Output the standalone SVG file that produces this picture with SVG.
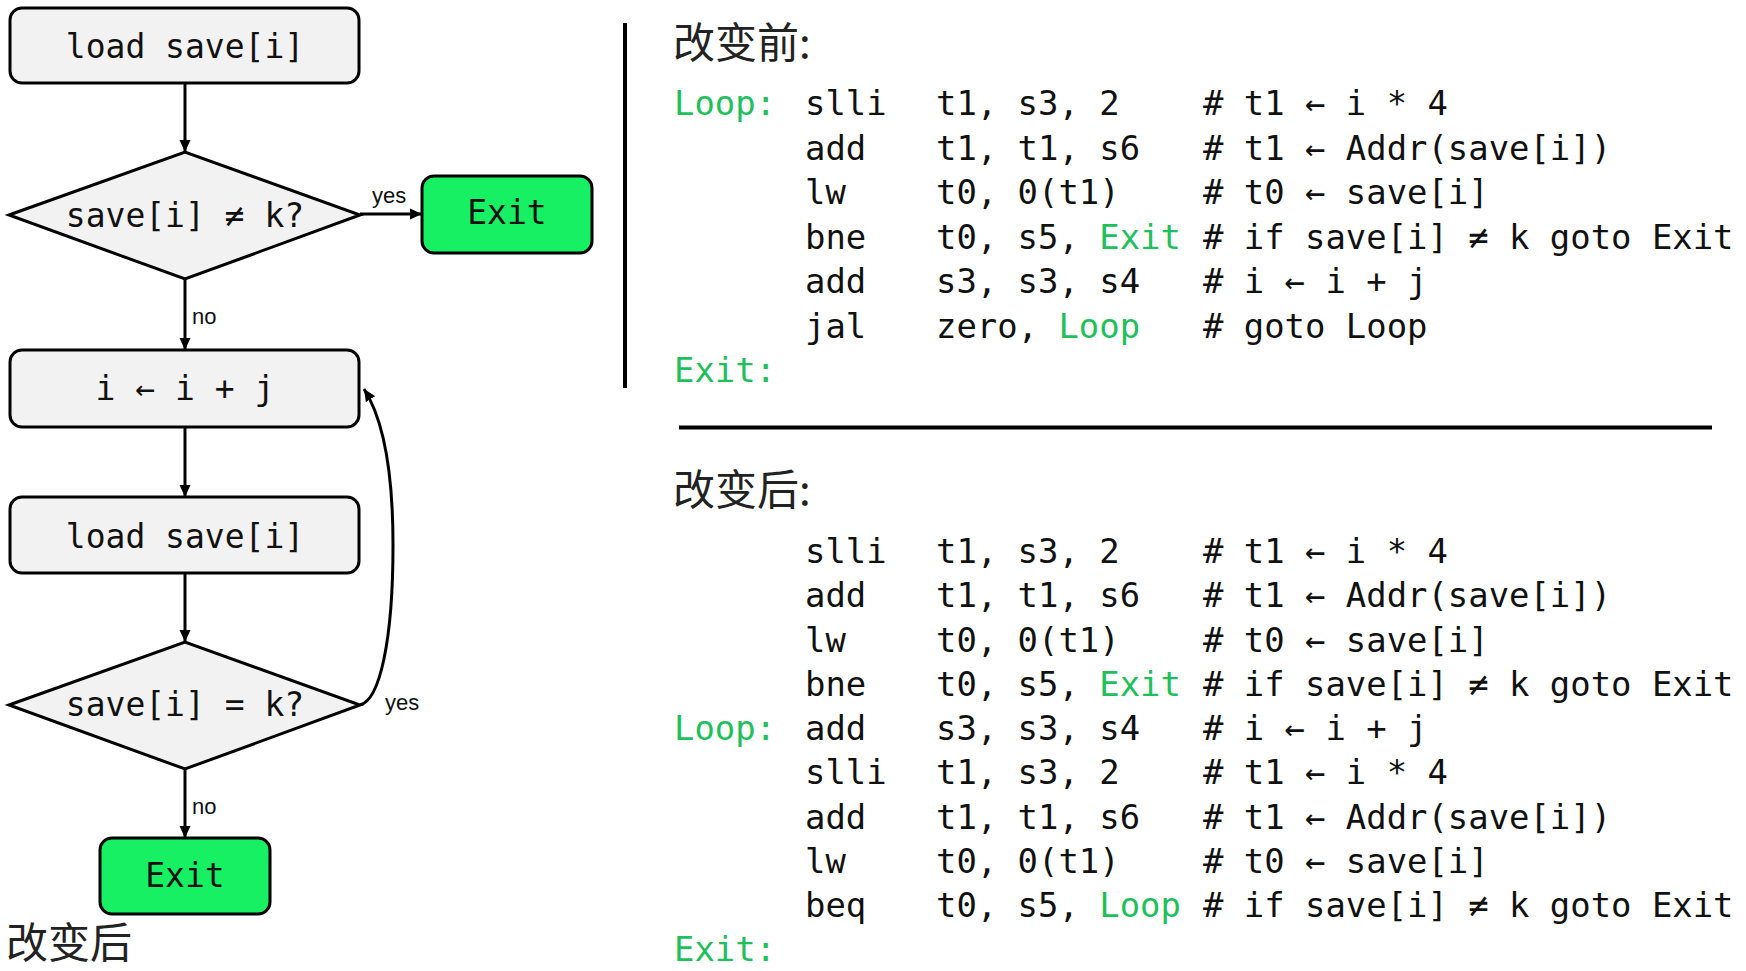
<svg xmlns="http://www.w3.org/2000/svg" width="1746" height="971" viewBox="0 0 1746 971">
<style>
.box{fill:#f2f2f2;stroke:#000;stroke-width:3}
.exit{fill:#16f062;stroke:#000;stroke-width:3}
.ft{font-family:"DejaVu Sans Mono","Liberation Mono",monospace;font-size:33px;fill:#111;text-anchor:middle;white-space:pre}
.lbl{font-family:"Liberation Sans","Noto Sans",sans-serif;font-size:22px;fill:#111}
.code{font-family:"DejaVu Sans Mono","Liberation Mono",monospace;font-size:33.9px;fill:#111;white-space:pre}
.g{fill:#1fbf5b}
.cjk{font-family:"Noto Sans CJK SC","Noto Sans",sans-serif;font-size:42px;fill:#222}
.conn{fill:none;stroke:#000;stroke-width:3}
.rule{stroke:#000;stroke-width:4}
</style>
<defs>
<marker id="ah" markerUnits="userSpaceOnUse" markerWidth="12" markerHeight="12" viewBox="0 0 12 12" refX="12" refY="6" orient="auto">
<path d="M0,0.5 L12,6 L0,11.5 z" fill="#000"/>
</marker>
</defs>
<rect width="1746" height="971" fill="#fff"/>

<g id="connectors">
<line class="conn" x1="185" y1="84" x2="185" y2="152" marker-end="url(#ah)"/>
<line class="conn" x1="360" y1="214" x2="422" y2="214" marker-end="url(#ah)"/>
<line class="conn" x1="185" y1="279" x2="185" y2="350" marker-end="url(#ah)"/>
<line class="conn" x1="185" y1="427" x2="185" y2="497" marker-end="url(#ah)"/>
<line class="conn" x1="185" y1="573" x2="185" y2="642" marker-end="url(#ah)"/>
<line class="conn" x1="185" y1="769" x2="185" y2="838" marker-end="url(#ah)"/>
<path class="conn" d="M360,705 C380,700 393,640 393,545 C393,470 384,420 364,389" marker-end="url(#ah)"/>
<text class="lbl" x="372" y="203">yes</text>
<text class="lbl" x="192" y="324">no</text>
<text class="lbl" x="385" y="710">yes</text>
<text class="lbl" x="192" y="814">no</text>
</g>

<g id="load1">
<rect class="box" x="10" y="8" width="349" height="75" rx="12"/>
<text class="ft" x="185" y="58">load save[i]</text>
</g>
<g id="cond1">
<polygon class="box" points="9,215 185,152 360,215 185,279"/>
<text class="ft" x="185" y="227">save[i] ≠ k?</text>
</g>
<g id="exit1">
<rect class="exit" x="422" y="176" width="170" height="77" rx="12"/>
<text class="ft" x="507" y="224">Exit</text>
</g>
<g id="incr">
<rect class="box" x="10" y="350" width="349" height="77" rx="12"/>
<text class="ft" x="185" y="400">i ← i + j</text>
</g>
<g id="load2">
<rect class="box" x="10" y="497" width="349" height="76" rx="12"/>
<text class="ft" x="185" y="548">load save[i]</text>
</g>
<g id="cond2">
<polygon class="box" points="9,705 185,642 360,705 185,769"/>
<text class="ft" x="185" y="716">save[i] = k?</text>
</g>
<g id="exit2">
<rect class="exit" x="100" y="838" width="170" height="76" rx="12"/>
<text class="ft" x="185" y="887">Exit</text>
</g>
<text class="cjk" x="6" y="958">改变后</text>

<line class="rule" x1="625" y1="23" x2="625" y2="388"/>
<line class="rule" x1="679" y1="427.5" x2="1712" y2="427.5"/>

<g id="before">
<text class="cjk" x="673" y="58">改变前:</text>
<text class="code g" x="674" y="115">Loop:</text>
<text class="code" x="805" y="115">slli</text><text class="code" x="936" y="115">t1, s3, 2</text><text class="code" x="1203" y="115"># t1 ← i * 4</text>
<text class="code" x="805" y="159.5">add</text><text class="code" x="936" y="159.5">t1, t1, s6</text><text class="code" x="1203" y="159.5"># t1 ← Addr(save[i])</text>
<text class="code" x="805" y="204">lw</text><text class="code" x="936" y="204">t0, 0(t1)</text><text class="code" x="1203" y="204"># t0 ← save[i]</text>
<text class="code" x="805" y="248.5">bne</text><text class="code" x="936" y="248.5">t0, s5, <tspan class="g">Exit</tspan></text><text class="code" x="1203" y="248.5"># if save[i] ≠ k goto Exit</text>
<text class="code" x="805" y="293">add</text><text class="code" x="936" y="293">s3, s3, s4</text><text class="code" x="1203" y="293"># i ← i + j</text>
<text class="code" x="805" y="337.5">jal</text><text class="code" x="936" y="337.5">zero, <tspan class="g">Loop</tspan></text><text class="code" x="1203" y="337.5"># goto Loop</text>
<text class="code g" x="674" y="382">Exit:</text>
</g>

<g id="after">
<text class="cjk" x="673" y="505">改变后:</text>
<text class="code" x="805" y="563">slli</text><text class="code" x="936" y="563">t1, s3, 2</text><text class="code" x="1203" y="563"># t1 ← i * 4</text>
<text class="code" x="805" y="607">add</text><text class="code" x="936" y="607">t1, t1, s6</text><text class="code" x="1203" y="607"># t1 ← Addr(save[i])</text>
<text class="code" x="805" y="651.5">lw</text><text class="code" x="936" y="651.5">t0, 0(t1)</text><text class="code" x="1203" y="651.5"># t0 ← save[i]</text>
<text class="code" x="805" y="696">bne</text><text class="code" x="936" y="696">t0, s5, <tspan class="g">Exit</tspan></text><text class="code" x="1203" y="696"># if save[i] ≠ k goto Exit</text>
<text class="code g" x="674" y="740">Loop:</text>
<text class="code" x="805" y="740">add</text><text class="code" x="936" y="740">s3, s3, s4</text><text class="code" x="1203" y="740"># i ← i + j</text>
<text class="code" x="805" y="784">slli</text><text class="code" x="936" y="784">t1, s3, 2</text><text class="code" x="1203" y="784"># t1 ← i * 4</text>
<text class="code" x="805" y="828.5">add</text><text class="code" x="936" y="828.5">t1, t1, s6</text><text class="code" x="1203" y="828.5"># t1 ← Addr(save[i])</text>
<text class="code" x="805" y="873">lw</text><text class="code" x="936" y="873">t0, 0(t1)</text><text class="code" x="1203" y="873"># t0 ← save[i]</text>
<text class="code" x="805" y="917">beq</text><text class="code" x="936" y="917">t0, s5, <tspan class="g">Loop</tspan></text><text class="code" x="1203" y="917"># if save[i] ≠ k goto Exit</text>
<text class="code g" x="674" y="961">Exit:</text>
</g>
</svg>
